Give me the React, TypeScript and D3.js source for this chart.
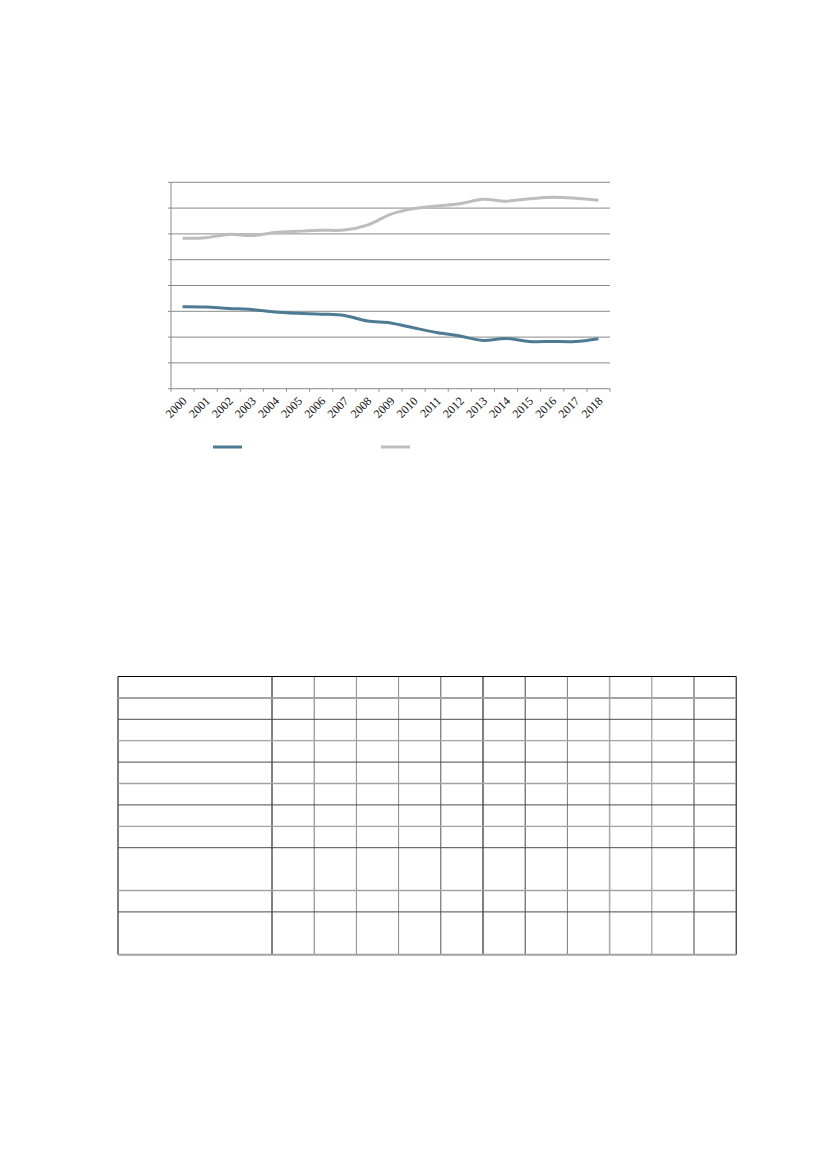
import React, { useEffect, useRef } from 'react';
import * as d3 from 'd3';

const years = ['2000', '2001', '2002', '2003', '2004', '2005', '2006', '2007', '2008', '2009',
  '2010', '2011', '2012', '2013', '2014', '2015', '2016', '2017', '2018'];

const blueSeries = [3.18, 3.17, 3.11, 3.07, 2.97, 2.92, 2.89, 2.84, 2.62, 2.55,
  2.36, 2.18, 2.04, 1.87, 1.95, 1.83, 1.83, 1.83, 1.94];

const greySeries = [5.83, 5.85, 5.98, 5.94, 6.05, 6.10, 6.14, 6.15, 6.34, 6.76,
  6.98, 7.08, 7.17, 7.34, 7.27, 7.36, 7.42, 7.38, 7.30];

const yTicks = [0, 1, 2, 3, 4, 5, 6, 7, 8];

// table: header + body rows, number of text lines per row
const tableRowLines = [1, 1, 1, 1, 1, 1, 1, 1, 2, 1, 2];
const tableColumns = ['label', 'c1', 'c2', 'c3', 'c4', 'c5', 'c6', 'c7', 'c8', 'c9', 'c10', 'c11'];

const App: React.FC = () => {
  const ref = useRef<SVGSVGElement>(null);

  useEffect(() => {
    document.body.style.margin = '0';
    if (!ref.current) return;
    const svg = d3.select(ref.current);
    svg.selectAll('*').remove();

    // ---- chart ----
    const left = 171, right = 610, top = 182.3, bottom = 388.7;
    const x = d3.scaleBand().domain(years).range([left, right]);
    const y = d3.scaleLinear().domain([0, 8]).range([bottom, top]);
    const cx = (d: string) => (x(d) || 0) + x.bandwidth() / 2;

    const g = svg.append('g');

    // gridlines
    g.selectAll('.grid')
      .data(yTicks.filter(t => t > 0))
      .enter().append('line')
      .attr('x1', left).attr('x2', right)
      .attr('y1', d => y(d)).attr('y2', d => y(d))
      .attr('stroke', '#8a8a8a').attr('stroke-width', 1);

    // y axis
    g.append('line')
      .attr('x1', left).attr('x2', left).attr('y1', top).attr('y2', bottom)
      .attr('stroke', '#8a8a8a');
    g.selectAll('.ytick')
      .data(yTicks)
      .enter().append('line')
      .attr('x1', left - 3).attr('x2', left)
      .attr('y1', d => y(d)).attr('y2', d => y(d))
      .attr('stroke', '#8a8a8a');

    // x axis
    g.append('line')
      .attr('x1', left).attr('x2', right).attr('y1', bottom).attr('y2', bottom)
      .attr('stroke', '#8a8a8a');
    const boundaries = years.map(d => x(d) || 0).concat([right]);
    g.selectAll('.xtick')
      .data(boundaries)
      .enter().append('line')
      .attr('x1', d => d).attr('x2', d => d)
      .attr('y1', bottom).attr('y2', bottom + 3)
      .attr('stroke', '#8a8a8a');

    g.selectAll('.xlabel')
      .data(years)
      .enter().append('text')
      .attr('transform', d => `translate(${cx(d) + 2},${bottom + 10}) rotate(-45)`)
      .attr('text-anchor', 'end')
      .attr('dy', '0.35em')
      .attr('font-family', '"Liberation Serif", "Times New Roman", serif')
      .attr('font-size', '12px')
      .attr('fill', '#111')
      .text(d => d);

    const line = d3.line<number>()
      .x((_, i) => cx(years[i]))
      .y(d => y(d))
      .curve(d3.curveCatmullRom.alpha(0.5));

    g.append('path')
      .attr('d', line(greySeries) || '')
      .attr('fill', 'none')
      .attr('stroke', '#bdbdbd')
      .attr('stroke-width', 3)
      .attr('stroke-linejoin', 'round');

    g.append('path')
      .attr('d', line(blueSeries) || '')
      .attr('fill', 'none')
      .attr('stroke', '#4e7b93')
      .attr('stroke-width', 3)
      .attr('stroke-linejoin', 'round');

    // legend
    const legend = [
      { color: '#4e7b93', x0: 213 },
      { color: '#bdbdbd', x0: 381 },
    ];
    g.selectAll('.legend')
      .data(legend)
      .enter().append('line')
      .attr('x1', d => d.x0).attr('x2', d => d.x0 + 29)
      .attr('y1', 447).attr('y2', 447)
      .attr('stroke', d => d.color)
      .attr('stroke-width', 3);

    // ---- table ----
    const tLeft = 118, tTop = 676.5, labelW = 154, colW = 42.2;
    const lineH = 21.4;
    const colX = d3.scaleBand()
      .domain(tableColumns.slice(1))
      .range([tLeft + labelW, tLeft + labelW + colW * (tableColumns.length - 1)]);
    const tRight = tLeft + labelW + colW * (tableColumns.length - 1);
    const rowTops = [tTop];
    tableRowLines.forEach(n => rowTops.push(rowTops[rowTops.length - 1] + n * lineH));
    const tBottom = rowTops[rowTops.length - 1];

    const t = svg.append('g');
    const vStroke = ['#000', '#000', '#777', '#8a8a8a', '#8a8a8a', '#555', '#000', '#444', '#7a7a7a', '#a8a8a8', '#8a8a8a', '#444', '#000'];
    const vxs = [tLeft].concat(tableColumns.slice(1).map(c => colX(c) || 0)).concat([tRight]);
    t.selectAll('.vline')
      .data(vxs)
      .enter().append('line')
      .attr('x1', d => d).attr('x2', d => d)
      .attr('y1', tTop).attr('y2', tBottom)
      .attr('stroke', (_, i) => vStroke[i])
      .attr('stroke-width', (_, i) => (i === 9 ? 1.5 : 1));

    t.selectAll('.hline')
      .data(rowTops)
      .enter().append('line')
      .attr('x1', tLeft).attr('x2', tRight)
      .attr('y1', d => d).attr('y2', d => d)
      .attr('stroke', (_, i) => (i === 0 ? '#000' : i % 2 === 1 ? '#a3a3a3' : '#4a4a4a'))
      .attr('stroke-width', (_, i) => (i === 1 || i === rowTops.length - 1 ? 2 : i % 2 === 1 ? 1.3 : 1));
  }, []);

  return (
    <svg ref={ref} width={827} height={1169} style={{ display: 'block', background: '#fff' }} />
  );
};

export default App;
